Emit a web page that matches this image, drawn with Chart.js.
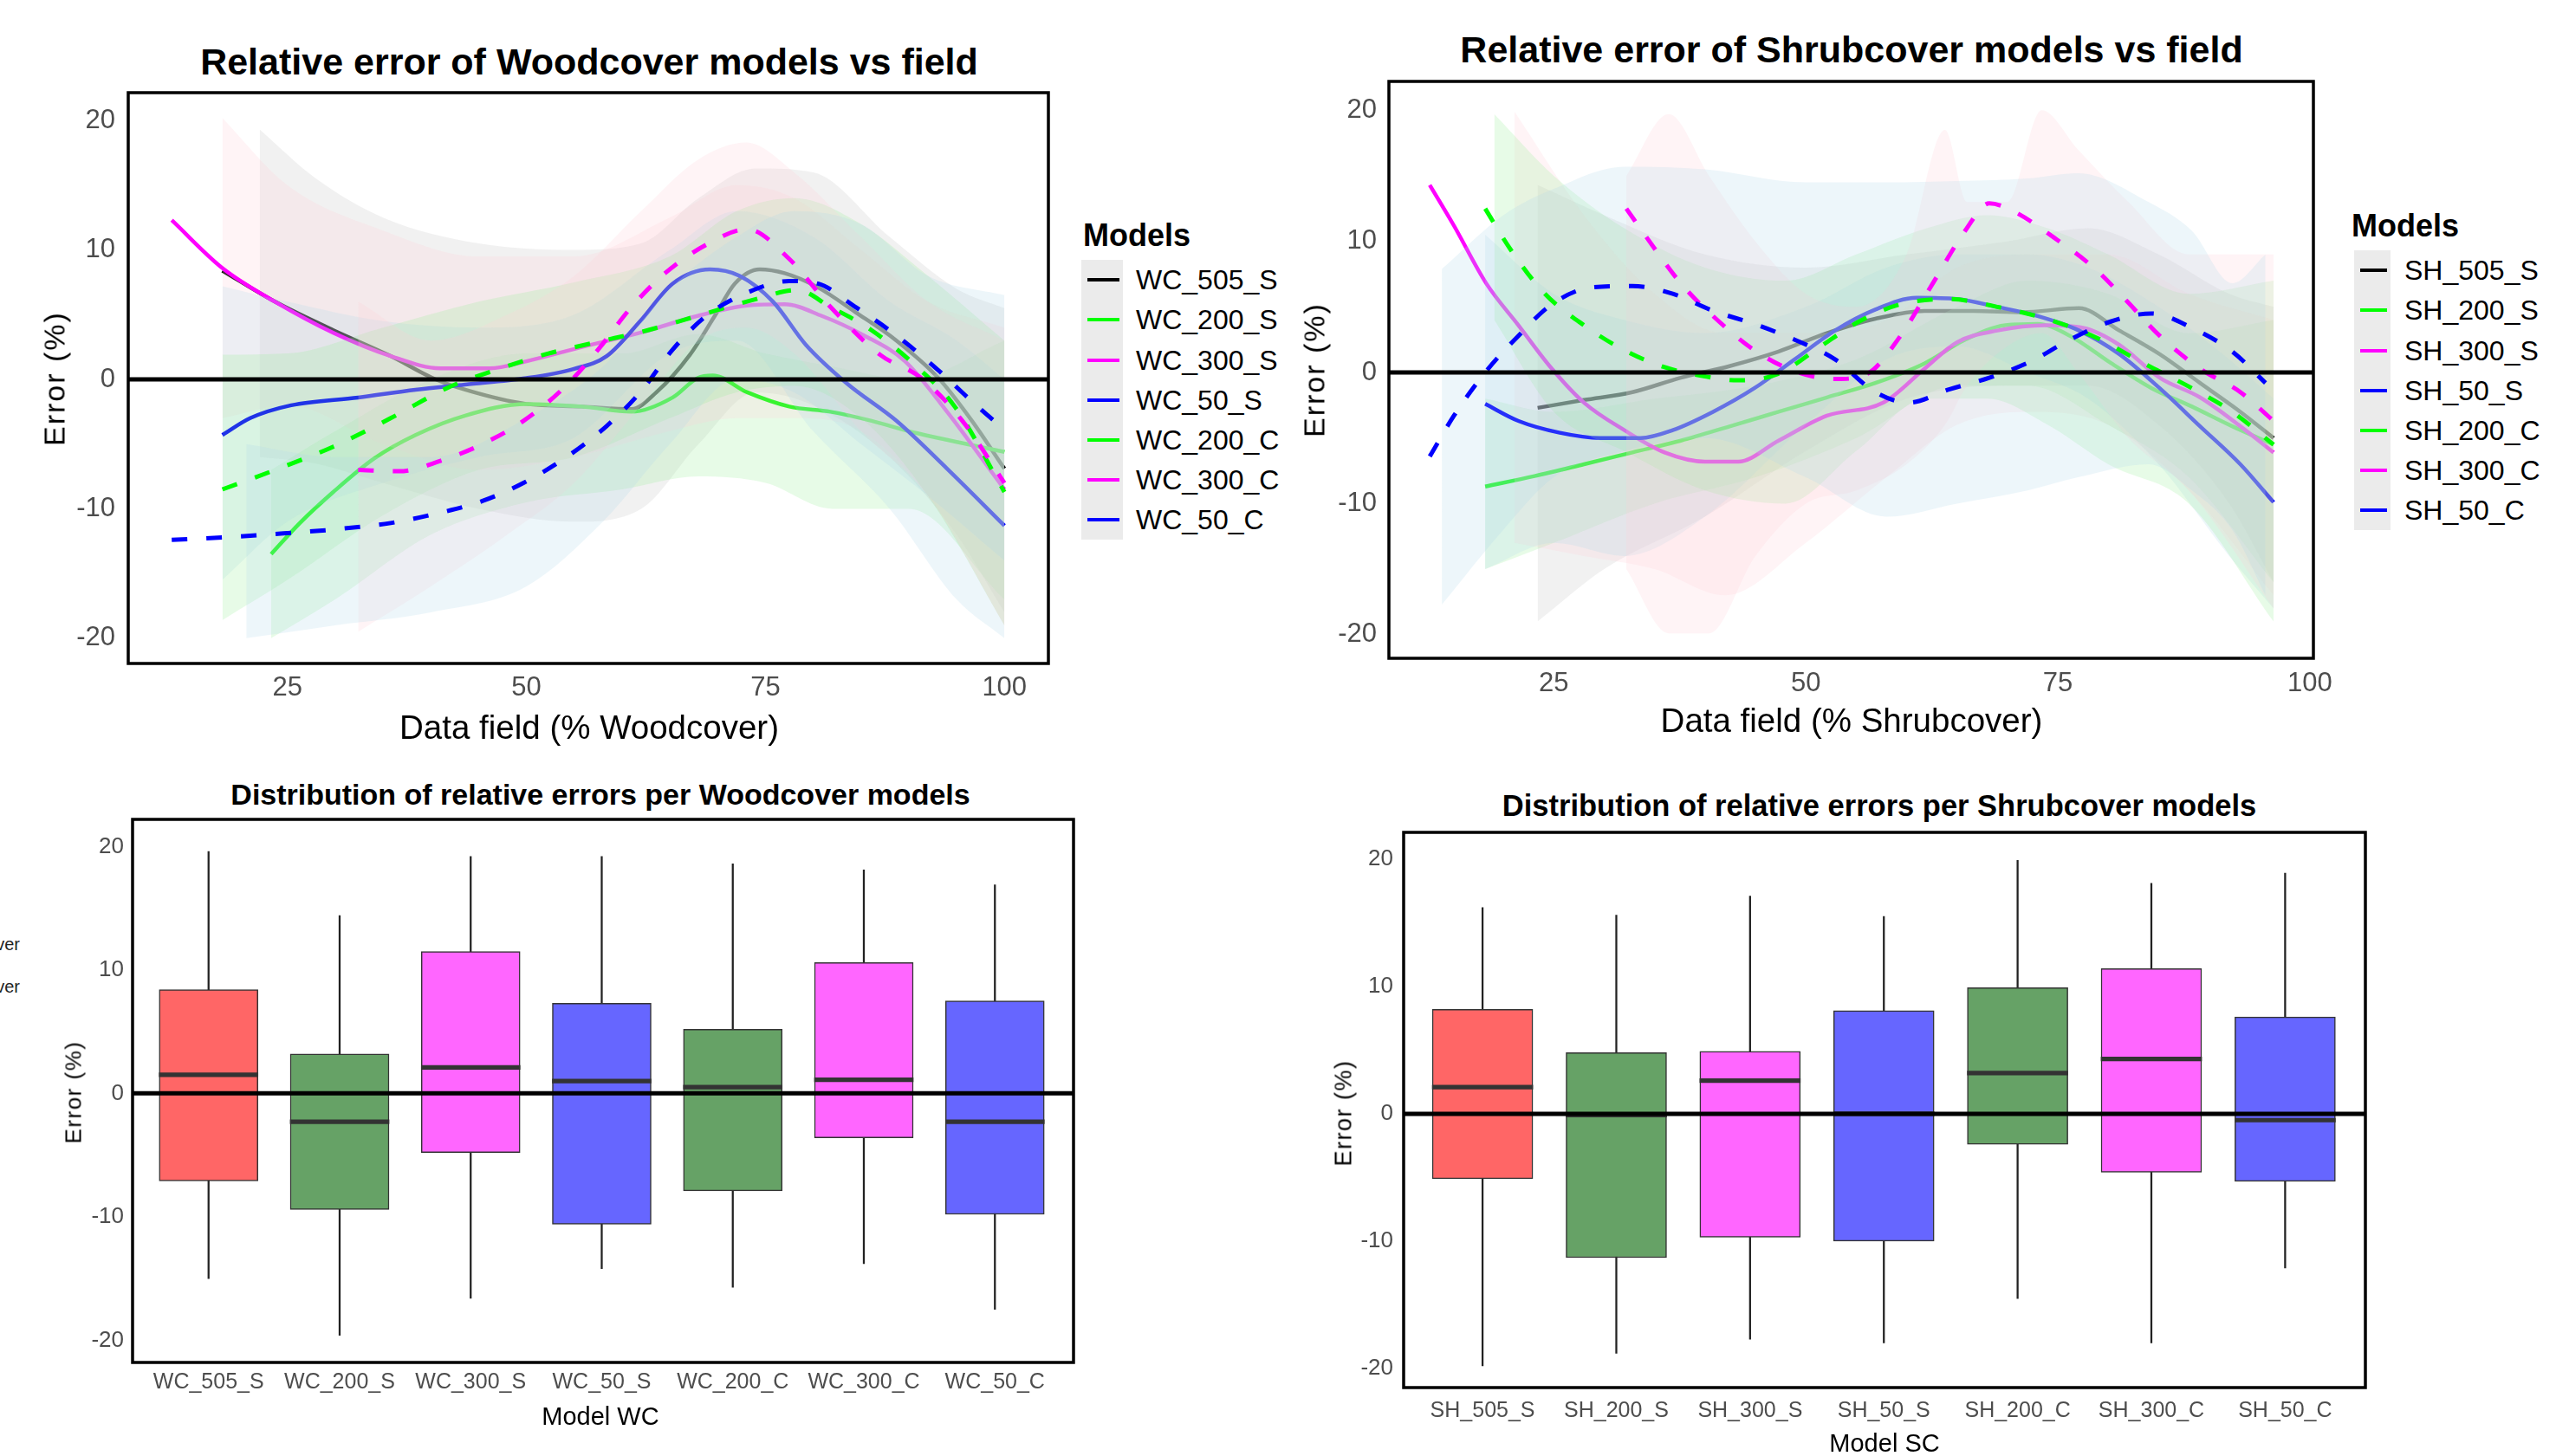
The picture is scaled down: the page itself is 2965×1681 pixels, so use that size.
<!DOCTYPE html>
<html>
<head>
<meta charset="utf-8">
<script src="https://cdn.jsdelivr.net/npm/chart.js@4.4.1/dist/chart.umd.min.js"></script>
<style>
  body { margin:0; width:2965px; height:1681px; background:#fff; position:relative; overflow:hidden; font-family:'Liberation Sans', Arial, sans-serif; color:#000; }
  canvas { position:absolute; }
  .t { position:absolute; white-space:nowrap; transform:translate(-50%,-50%); }
  .b { font-weight:bold; }
  .rot { transform:translate(-50%,-50%) rotate(-90deg); }
  .lt { position:absolute; white-space:nowrap; transform:translateY(-50%); }
  .keybg { position:absolute; background:#EBEBEB; }
  .key { position:absolute; height:4px; }
</style>
</head>
<body>

<canvas id="wcLines" width="1186" height="722" style="left:30px;top:100px"></canvas>
<canvas id="shLines" width="1170" height="730" style="left:1530px;top:87px"></canvas>
<canvas id="wcBox" width="1205" height="682" style="left:40px;top:940px"></canvas>
<canvas id="shBox" width="1176" height="697" style="left:1560px;top:955px"></canvas>

<div class="t b" style="left:680px;top:71px;font-size:43px">Relative error of Woodcover models vs field</div>
<div class="t" style="left:680px;top:840px;font-size:38.5px">Data field (% Woodcover)</div>
<div class="t rot" style="left:63px;top:437px;font-size:34px;letter-spacing:2px">Error (%)</div>

<div class="t b" style="left:2137px;top:57px;font-size:43px">Relative error of Shrubcover models vs field</div>
<div class="t" style="left:2137px;top:832px;font-size:38.5px">Data field (% Shrubcover)</div>
<div class="t rot" style="left:1517px;top:427px;font-size:34px;letter-spacing:2px">Error (%)</div>

<div class="t b" style="left:693px;top:917px;font-size:34px">Distribution of relative errors per Woodcover models</div>
<div class="t" style="left:693px;top:1635px;font-size:29px">Model WC</div>
<div class="t rot" style="left:85px;top:1261px;font-size:26px;letter-spacing:1.5px">Error (%)</div>

<div class="t b" style="left:2169px;top:930px;font-size:34.5px">Distribution of relative errors per Shrubcover models</div>
<div class="t" style="left:2175px;top:1666px;font-size:29px">Model SC</div>
<div class="t rot" style="left:1551px;top:1285px;font-size:27px;letter-spacing:1.5px">Error (%)</div>

<div class="lt" style="right:2942px;top:1090px;font-size:20px;color:#222">ver</div>
<div class="lt" style="right:2942px;top:1139px;font-size:20px;color:#222">ver</div>

<div id="wcLegend"></div>
<div id="shLegend"></div>

<script>
// ---- top: loess curves (x = field %, y = error %) ----
const modelColors = ['#000000','#00FF00','#FF00FF','#0000FF','#00FF00','#FF00FF','#0000FF']
const bandColors  = ['#BEBEBE','#90EE90','#FFCCD5','#ADD8E6','#90EE90','#FFCCD5','#ADD8E6']
const modelDashed = [false,false,false,false,true,true,true]

const wcNames = ['WC_505_S','WC_200_S','WC_300_S','WC_50_S','WC_200_C','WC_300_C','WC_50_C']
const wcLineX = [
  [18.2,23.7,29.8,35.8,40.2,43.6,50,55.8,61,63.6,67.1,69.7,71.8,74.4,77,80.5,84.4,88.7,93.1,96.6,100],
  [23.3,26.3,29.8,34.1,38.4,43.6,50,55.8,61,65.3,67.9,69.5,73.1,77.5,81.8,86.1,90.5,94.8,100],
  [12.9,18.2,23.7,29.8,35.8,41,46.2,50,55.8,61.9,67.9,73.1,77,80.9,85.3,89.6,94,100],
  [18.2,21.1,25.4,32.4,38.4,43.6,50,54.9,58.4,61.9,65.3,69.2,72.3,75.8,79.2,83.5,88.7,94,100],
  [18.2,23.7,29.8,35.8,41.9,47.1,52.3,57.5,62.7,68.8,74,78.3,81.8,86.1,90.5,94.8,100],
  [32.4,36.7,41,45.4,49.7,54,57.5,61,64.5,68.8,73.1,77.5,81.8,87,91.3,95.6,100],
  [12.9,18.5,24.6,29.8,35.8,41,45.4,49.7,54,58.4,61.9,65.3,68.8,73.1,77.5,80.5,84.4,88.7,93.1,96.6,100]
]
const wcLineY = [
  [8.4,6.0,3.8,1.8,0.1,-0.8,-1.9,-2.1,-2.3,-1.0,1.9,4.9,7.4,8.5,8.2,7.1,5.2,3.0,0.1,-3.2,-6.9],
  [-13.5,-11.1,-8.7,-6.1,-4.3,-2.8,-1.9,-2.1,-2.5,-1.4,0.1,0.3,-1.0,-2.1,-2.5,-3.2,-4.1,-4.8,-5.6],
  [12.3,8.6,6.0,3.6,1.8,0.85,0.85,1.4,2.5,3.6,4.9,5.7,5.8,4.9,3.4,1.4,-2.5,-8.5],
  [-4.3,-3.0,-2.0,-1.4,-0.8,-0.4,0.1,0.8,1.8,4.5,7.4,8.5,8.0,6.0,2.7,-0.3,-3.2,-6.9,-11.3],
  [-8.5,-7.0,-5.2,-3.0,-0.6,0.8,2.0,2.9,3.8,5.1,6.2,6.9,5.6,3.8,1.2,-2.1,-8.7],
  [-7.0,-7.1,-6.3,-5.0,-3.2,-0.6,2.3,5.6,8.2,10.4,11.6,9.3,5.6,1.9,0.1,-3.2,-8.0],
  [-12.4,-12.2,-11.9,-11.6,-11.1,-10.3,-9.4,-8.0,-6.1,-3.6,-1.0,2.3,4.9,6.7,7.6,7.4,5.6,3.4,0.7,-1.7,-3.9]
]
// confidence bands
const wcBandX = [
  [22.1,28,35,45,55,62,68,74,80,88,95,100],
  [23.3,30,40,50,60,68,75,82,90,100],
  [18.2,25,35,45,55,65,72,78,85,92,100],
  [18.2,25,35,45,55,65,72,80,88,95,100],
  [18.2,25,35,45,55,65,72,78,85,92,100],
  [32.4,40,48,55,62,68,73,78,85,92,100],
  [20.7,30,40,50,58,65,72,78,85,92,100]
]
const wcBandLo = [
  [-6,-6.5,-8,-10,-11,-10,-5,-1,-2,-6,-12,-18],
  [-20,-17,-12,-9.5,-8.5,-7.5,-8,-10,-10,-17],
  [-3,-2,-5,-7,-6,-4,-3,-3,-4,-9,-19],
  [-15.5,-11,-8,-6,-4.5,2,3,-4,-10,-17,-20],
  [-18.6,-15.5,-10.5,-7,-6,-3,-1,-0.5,-3,-9,-19],
  [-19.5,-16,-12,-8,-2,3,4,2,-4,-9,-19],
  [-20,-19,-18,-16,-11,-5,0,-1,-5,-9,-14]
]
const wcBandHi = [
  [19.3,15.5,12.5,10.5,10,10.5,14,16.3,16,11,7,5.5],
  [-7,-4,0,2,2,3.5,2,1,0,3],
  [20.2,15,11.5,9.5,9.5,12.5,15,14,10,6,4],
  [7.2,6,4.5,4,5,10,13,11,6,3,0],
  [1.9,2,4,6,7.5,9.5,13,14,12,8,3],
  [6,3,5,8,13,17,18.3,16,11,6,3],
  [-5,-6,-6,-3,1,7,11,13,12,8,6.5]
]

const shNames = ['SH_505_S','SH_200_S','SH_300_S','SH_50_S','SH_200_C','SH_300_C','SH_50_C']
const shLineX = [
  [23.4,28,32.8,37.6,42.5,47.3,52.1,56.9,61.8,66.6,71.4,77.1,81.1,85.1,89.1,93.1,96.4],
  [18.2,23.1,28,32.8,37.6,42.5,47.3,52.1,56.9,61.8,65.8,69.8,73,76.2,80.3,84.3,88.3,92.3,96.4],
  [12.7,15.1,18.3,21.5,24.8,28,32,36,40,43.3,47.3,52.1,57.7,61.8,65,69,73.8,77.5,81.1,85.1,89.1,93.1,96.4],
  [18.2,21.5,25.6,29.6,33.6,36.8,40.8,44.9,48.9,52.9,56.9,61,65,69,73,77.1,81.1,85.1,89.1,93.1,96.4],
  [18.2,20.7,24,28,32,36,40,43.3,47.3,51.3,55.3,59.4,64.2,69,73.8,78.7,83.5,88.3,92.3,96.4],
  [32.2,34.4,37.6,40.8,44.9,48.9,52.9,56.1,59.4,62.6,65.8,68.2,70.6,74.6,78.7,81.9,85.1,89.1,93.1,96.4],
  [12.7,15.1,18.3,21.5,24.8,28.8,32.8,36.8,40.8,44.9,48.9,52.9,56.9,60.2,64.2,68.2,72.2,76.2,80.3,84.3,88.3,92.3,95.6]
]
const shLineY = [
  [-2.7,-2.1,-1.5,-0.4,0.5,1.6,3.0,4.1,4.7,4.7,4.6,4.9,3.2,1.4,-0.8,-3.0,-5.0],
  [-8.7,-7.9,-7.0,-6.1,-5.2,-4.1,-3.0,-1.9,-0.8,0.7,2.5,3.6,3.7,2.8,0.7,-1.2,-2.6,-4.1,-5.5],
  [14.3,11.2,6.8,3.6,0.3,-2.3,-4.4,-6.1,-6.8,-6.8,-5.2,-3.3,-2.3,0.3,2.3,3.2,3.6,3.4,2.1,-0.4,-1.9,-4.1,-6.1],
  [-2.4,-3.7,-4.6,-5.0,-5.0,-4.4,-3.0,-1.2,1.0,3.2,4.8,5.7,5.6,5.0,4.3,3.2,1.4,-1.2,-4.1,-7.0,-9.9],
  [12.5,9.4,6.1,3.6,1.7,0.4,-0.3,-0.6,-0.1,1.9,3.9,5.2,5.6,5.0,4.1,2.7,0.7,-1.2,-3.0,-5.5],
  [12.5,10.1,6.8,4.3,1.7,0.1,-0.5,-0.1,2.8,6.8,10.8,12.9,12.3,10.3,7.9,5.4,2.8,0.3,-1.5,-3.7],
  [-6.4,-3.3,0.1,2.8,5.2,6.5,6.6,6.0,4.7,3.7,2.5,1.0,-1.5,-2.3,-1.3,-0.4,0.8,2.5,3.9,4.5,3.4,1.6,-0.8]
]
const shBandX = [
  [23.4,30,40,50,60,70,78,85,92,96.4],
  [18.2,25,35,45,55,65,72,80,88,96.4],
  [21.1,28,35,42,50,58,65,72,80,88,96.4],
  [18.2,25,32,40,50,58,65,72,78,85,92,96.4],
  [19.1,25,32,40,48,55,62,68,74,80,88,96.4],
  [32.2,36.4,40.4,45,50,55,60,63.8,66,70,73.4,77,82,88,96.4],
  [13.9,20,25,32,40,50,58,65,72,77,84,88.3,92.3,95.6]
]
const shBandLo = [
  [-19,-15,-11,-6,-2,-1,-1,-4,-10,-16],
  [-15,-13,-10,-8,-5,-1,-1,-4,-8,-16],
  [-13,-14,-15,-17,-13,-8,-4,-3,-4,-9,-17],
  [-15,-13,-14,-11,-4,1,2,0,-2,-7,-14,-18],
  [4,-3,-6,-9,-10,-6,-2,-2,-4,-7,-10,-19],
  [-15,-19.9,-19.9,-14,-10,-9,-7,-4,-1,2,3,0,-5,-9,-18],
  [-17.7,-12,-8,-6,-5,-8,-11,-10,-9,-8,-7,-9,-12,-17]
]
const shBandHi = [
  [14.3,12,9,8,9,10,11,9,6,5],
  [-2,-3,-2,-1,1,5,7,6,3,4],
  [19.9,12,6,3,3,4,8,9,9,6,4],
  [10.5,6,4,3,5,8,9,9,8,5,1,-2],
  [19.7,15,11,8,7,9,11,12,11,9,6,7],
  [15,19.7,15,10,6,5,9,18.5,13,13,20,17,13,9,9],
  [7.9,12,14,15.7,15.5,14.5,14.5,14.6,14.8,15.2,13,10.8,6.8,9]
]

// ---- bottom: box plots ----
const boxColors = ['#FF6666','#66A266','#FF66FF','#6666FF','#66A266','#FF66FF','#6666FF']
const wcMin = [-15.0,-19.6,-16.6,-14.2,-15.7,-13.8,-17.5]
const wcQ1  = [-7.1,-9.4,-4.8,-10.6,-7.9,-3.6,-9.8]
const wcMed = [1.5,-2.3,2.1,1.0,0.5,1.1,-2.3]
const wcQ3  = [8.4,3.2,11.5,7.3,5.2,10.6,7.5]
const wcMax = [19.6,14.4,19.2,19.2,18.6,18.1,16.9]

const shMin = [-19.8,-18.8,-17.7,-18.0,-14.5,-18.0,-12.1]
const shQ1  = [-5.1,-11.3,-9.7,-10.0,-2.4,-4.6,-5.3]
const shMed = [2.1,-0.1,2.6,0.0,3.2,4.3,-0.5]
const shQ3  = [8.2,4.8,4.9,8.1,9.9,11.4,7.6]
const shMax = [16.2,15.6,17.1,15.5,19.9,18.1,18.9]

const yTicks = [-20,-10,0,10,20]
const xFieldTicks = [25,50,75,100]

const FONT = "'Liberation Sans', Arial, sans-serif"
const TICK = '#4D4D4D'
const BAND_ALPHA = 0.22

function rgba(hex, a) {
  const n = parseInt(hex.slice(1), 16)
  return `rgba(${n>>16&255},${n>>8&255},${n&255},${a})`
}

// zero line + panel border
const framePlugin = {
  id:'frame',
  afterDatasetsDraw(chart) {
    const {ctx, chartArea:a, scales} = chart
    const y0 = scales.y.getPixelForValue(0)
    ctx.save()
    ctx.strokeStyle = '#000'; ctx.lineWidth = 5
    ctx.beginPath(); ctx.moveTo(a.left, y0); ctx.lineTo(a.right, y0); ctx.stroke()
    ctx.restore()
  },
  afterDraw(chart) {
    const {ctx, chartArea:a} = chart
    ctx.save()
    ctx.strokeStyle = '#000'; ctx.lineWidth = 3.5
    ctx.strokeRect(a.left, a.top, a.right - a.left, a.bottom - a.top)
    ctx.restore()
  }
}

function axes(g, xTickList, xLabel) {
  return {
    x:{ type:'linear', min:g.xmin, max:g.xmax, offset:false,
      grid:{display:false, drawTicks:false}, border:{display:false},
      afterBuildTicks:s=>{ s.ticks = xTickList.map(v=>({value:v})) },
      afterFit:s=>{ s.height = g.xH; s.paddingLeft = 0; s.paddingRight = 0 },
      ticks:{ color:TICK, font:{family:FONT, size:g.xFont}, padding:g.xPad, maxRotation:0, autoSkip:false,
        callback: v => xLabel ? xLabel[v] : v } },
    y:{ min:g.ymin, max:g.ymax,
      grid:{display:false, drawTicks:false}, border:{display:false},
      afterBuildTicks:s=>{ s.ticks = yTicks.map(v=>({value:v})) },
      afterFit:s=>{ s.width = g.yW; s.paddingTop = 0; s.paddingBottom = 0 },
      ticks:{ color:TICK, font:{family:FONT, size:g.yFont}, padding:g.yPad } }
  }
}

// drawing sequence: S models (band then line each), then C bands, then C lines on top
function bandStep(s) { return s < 4 ? 2*s : 8 + (s-4) }
function lineStep(s) { return s < 4 ? 2*s + 1 : 11 + (s-4) }

function fieldChart(id, g, xs, ys, bx, blo, bhi) {
  const datasets = []
  xs.forEach((x, s) => {
    const col = modelColors[s], bo = 1000 - 2*bandStep(s), lo = 1000 - 2*lineStep(s)
    datasets.push({ data: bx[s].map((v,i)=>({x:v, y:bhi[s][i]})), borderColor:'rgba(0,0,0,0)', borderWidth:0,
      pointRadius:0, fill:'+1', backgroundColor: rgba(bandColors[s], BAND_ALPHA), cubicInterpolationMode:'monotone', order:bo })
    datasets.push({ data: bx[s].map((v,i)=>({x:v, y:blo[s][i]})), borderColor:'rgba(0,0,0,0)', borderWidth:0,
      pointRadius:0, fill:false, cubicInterpolationMode:'monotone', order:bo - 1 })
    datasets.push({ data: x.map((v,i)=>({x:v, y:ys[s][i]})), borderColor:col, borderWidth: modelDashed[s] ? 5 : 4.5,
      borderDash: modelDashed[s] ? [18,22] : [], pointRadius:0, fill:false, cubicInterpolationMode:'monotone', order:lo })
  })
  new Chart(document.getElementById(id), {
    type:'line',
    data:{ datasets },
    options:{
      responsive:false, animation:false, devicePixelRatio:1,
      layout:{ padding:{ top:g.padT, right:g.padR, left:0, bottom:0 } },
      plugins:{ legend:{display:false}, tooltip:{enabled:false} },
      scales: axes(g, xFieldTicks, null)
    },
    plugins:[framePlugin]
  })
}

function boxChart(id, g, labels, mn, q1, med, q3, mx) {
  const idx = labels.map((_, i) => i)
  new Chart(document.getElementById(id), {
    type:'bar',
    data:{ datasets:[
      // median bar: thin floating bar centred on the median
      { data: idx.map(i=>({x:i, y:[med[i] - g.medHalf, med[i] + g.medHalf]})), backgroundColor:'#333333', borderWidth:0,
        barThickness:g.boxW, grouped:false, order:0 },
      { data: idx.map(i=>({x:i, y:[q1[i], q3[i]]})), backgroundColor:boxColors, borderColor:'#333333',
        borderWidth:1.5, borderSkipped:false, barThickness:g.boxW, grouped:false, order:1 },
      { data: idx.map(i=>({x:i, y:[mn[i], mx[i]]})), backgroundColor:'#222222', borderWidth:0,
        barThickness:1.6, grouped:false, order:2 }
    ]},
    options:{
      responsive:false, animation:false, devicePixelRatio:1,
      layout:{ padding:{ top:g.padT, right:g.padR, left:0, bottom:0 } },
      plugins:{ legend:{display:false}, tooltip:{enabled:false} },
      scales: axes(g, idx, labels)
    },
    plugins:[framePlugin]
  })
}

fieldChart('wcLines', { xmin:8.35, xmax:104.6, ymin:-21.95, ymax:22.15, yW:118, xH:56, padT:7, padR:6,
  xFont:31, yFont:31, xPad:10, yPad:15 }, wcLineX, wcLineY, wcBandX, wcBandLo, wcBandHi)
fieldChart('shLines', { xmin:8.65, xmax:100.35, ymin:-21.8, ymax:22.2, yW:73, xH:57, padT:7, padR:30,
  xFont:31, yFont:31, xPad:11, yPad:14 }, shLineX, shLineY, shBandX, shBandLo, shBandHi)
boxChart('wcBox', { xmin:-0.58, xmax:6.6, ymin:-21.8, ymax:22.2, yW:113, xH:49, padT:6, padR:6,
  xFont:25, yFont:26, xPad:8, yPad:10, boxW:114, medHalf:0.16 }, wcNames, wcMin, wcQ1, wcMed, wcQ3, wcMax)
boxChart('shBox', { xmin:-0.59, xmax:6.6, ymin:-21.5, ymax:22.1, yW:60, xH:50, padT:6, padR:6,
  xFont:25, yFont:26, xPad:12, yPad:12, boxW:116, medHalf:0.155 }, shNames, shMin, shQ1, shMed, shQ3, shMax)

// legends (ggplot style: grey key column, line keys)
function legend(el, names, titleLeft, keyLeft, textLeft, top, bgW, step) {
  let h = `<div class="lt b" style="left:${titleLeft}px;top:${top}px;font-size:36px">Models</div>`
  h += `<div class="keybg" style="left:${keyLeft}px;top:${top+28}px;width:${bgW}px;height:${step*7}px"></div>`
  names.forEach((n, i) => {
    const cy = top + 28 + step*(i+0.5)
    h += `<div class="key" style="left:${keyLeft+7}px;top:${cy-2}px;width:${bgW-11}px;background:${modelColors[i]}"></div>`
    h += `<div class="lt" style="left:${textLeft}px;top:${cy}px;font-size:32px">${n}</div>`
  })
  document.getElementById(el).innerHTML = h
}
legend('wcLegend', wcNames, 1250, 1248, 1311, 272, 48, 46.2)
legend('shLegend', shNames, 2714, 2717, 2775, 261, 42, 46.2)
</script>
</body>
</html>
